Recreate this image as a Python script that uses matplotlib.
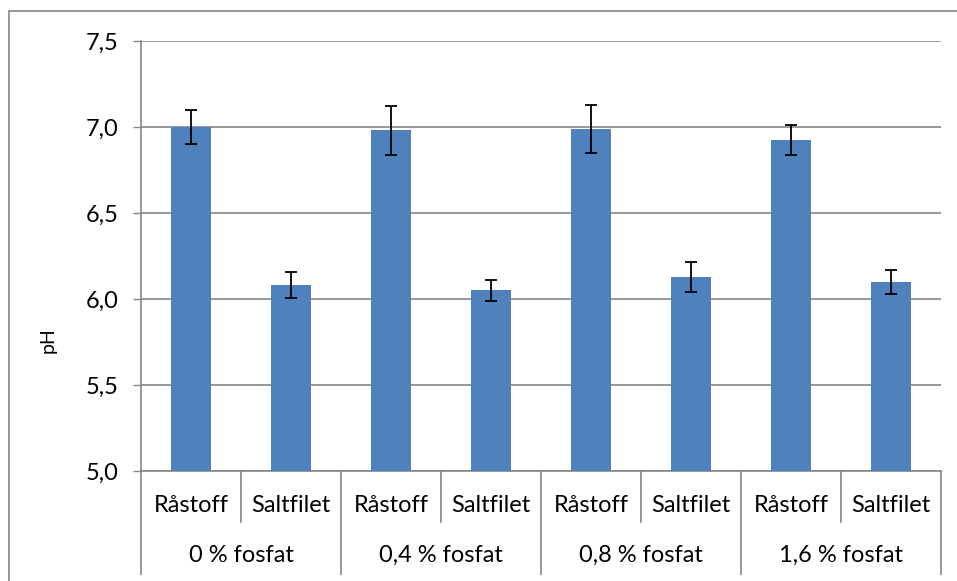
import numpy as np
import matplotlib
matplotlib.use("Agg")
import matplotlib.pyplot as plt
from matplotlib.patches import Rectangle
from matplotlib.lines import Line2D

plt.rcParams['font.family'] = ['Lato', 'DejaVu Sans']

groups = ["0 % fosfat", "0,4 % fosfat", "0,8 % fosfat", "1,6 % fosfat"]
kinds = ["Råstoff", "Saltfilet"]
ph = [7.00, 6.08, 6.98, 6.05, 6.99, 6.13, 6.925, 6.10]
err = [0.10, 0.075, 0.143, 0.062, 0.14, 0.088, 0.087, 0.071]
yticks = [5.0, 5.5, 6.0, 6.5, 7.0, 7.5]

grey = '#868686'
W, H = 957, 581
fig = plt.figure(figsize=(W/100, H/100), dpi=100)
ax = fig.add_axes([141/W, 110/H, 800/W, 430/H])

x = np.arange(len(ph))
ax.bar(x, ph, width=0.4, color='#4F81BD', zorder=3)
ax.errorbar(x, ph, yerr=err, fmt='none', ecolor='black', elinewidth=1.3,
            capsize=4.5, capthick=1.3, zorder=4)

ax.set_xlim(-0.5, len(ph) - 0.5)
ax.set_ylim(5.0, 7.5)
ax.set_yticks(yticks)
ax.set_yticklabels([f"{v:.1f}".replace('.', ',') for v in yticks], fontsize=17)
ax.tick_params(axis='y', length=6, width=1, color=grey, pad=10)
ax.grid(axis='y', color=grey, linewidth=1.2, zorder=0)
ax.set_xticks([])
for s in ['top', 'right', 'bottom']:
    ax.spines[s].set_visible(False)
ax.spines['left'].set_color(grey)
ax.spines['left'].set_linewidth(1.2)
ax.set_ylabel("pH", fontsize=14, va='center')
ax.yaxis.set_label_coords(-93/800, 131/430)

# category axis (two levels)
tr = ax.get_xaxis_transform()
inner_y = -35/430
outer_y = -84/430
inner_len = -51/430
outer_len = -103/430
for i, v in enumerate(ph):
    ax.text(x[i], inner_y, kinds[i % 2], transform=tr, ha='center', va='center',
            fontsize=17)
for g, name in enumerate(groups):
    ax.text(2*g + 0.5, outer_y, name, transform=tr, ha='center', va='center',
            fontsize=17)
ax.add_line(Line2D([-0.5, len(ph) - 0.5], [0, 0], transform=tr, color=grey,
                   lw=1.2, clip_on=False))
for b in np.arange(len(ph) + 1) - 0.5:
    low = outer_len if int(b + 0.5) % 2 == 0 else inner_len
    ax.add_line(Line2D([b, b], [0, low], transform=tr, color=grey, lw=1.2,
                       clip_on=False))

# outer chart border
fig.add_artist(Rectangle((9/W, -0.1), 1.2, 1.1 - 11/H, transform=fig.transFigure,
                         fill=False, edgecolor=grey, lw=1.2))

fig.savefig("out.png", dpi=100)
